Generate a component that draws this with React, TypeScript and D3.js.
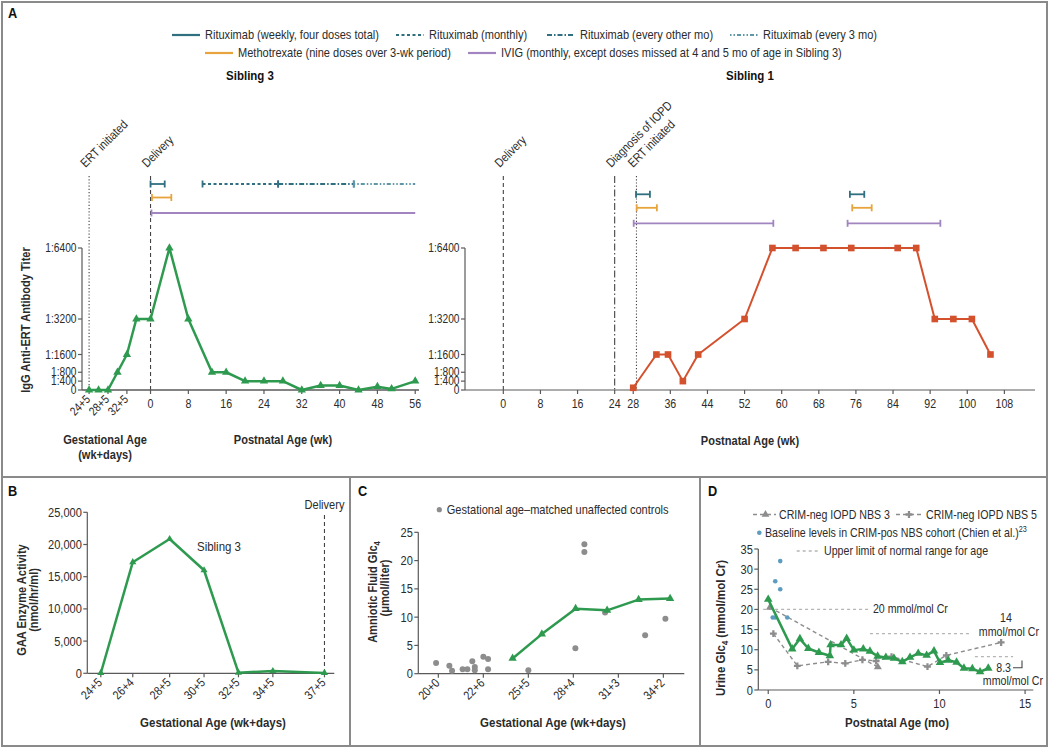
import React from 'react';
import * as d3 from 'd3';

// ---------- data ----------
// Panel A, Sibling 3: weeks relative to delivery (delivery at gestational 37+5)
const sib3Weeks = [-13, -11, -9, -7, -5, -3, 0, 4, 8, 13, 16, 20, 24, 28, 32, 36, 40, 44, 48, 51, 56];
const sib3Titers = [0, 0, 0, 800, 1600, 3200, 3200, 6400, 3200, 800, 800, 400, 400, 400, 0, 200, 200, 0, 150, 50, 400];
const sib3GestTicks = [-13, -9, -5];
const sib3GestLabels = ['24+5', '28+5', '32+5'];
const sib3PostTicks = [0, 8, 16, 24, 32, 40, 48, 56];

// Panel A, Sibling 1: postnatal weeks
const sib1Weeks = [28, 33, 35.5, 38.7, 42, 52, 58, 63, 69, 75, 85, 89, 93, 97, 101, 105];
const sib1Titers = [100, 1600, 1600, 400, 1600, 3200, 6400, 6400, 6400, 6400, 6400, 6400, 3200, 3200, 3200, 1600];
const sib1Ticks = [0, 8, 16, 24, 28, 36, 44, 52, 60, 68, 76, 84, 92, 100, 108];

const titerTicks = [0, 400, 800, 1600, 3200, 6400];
const titerLabels = ['0', '1:400', '1:800', '1:1600', '1:3200', '1:6400'];

const drugKeys = ['ritux', 'rituxMonthly', 'ritux2mo', 'ritux3mo', 'mtx', 'ivig'];
const drugLabels = [
  'Rituximab (weekly, four doses total)',
  'Rituximab (monthly)',
  'Rituximab (every other mo)',
  'Rituximab (every 3 mo)',
  'Methotrexate (nine doses over 3-wk period)',
  'IVIG (monthly, except doses missed at 4 and 5 mo of age in Sibling 3)',
];

const sib3Courses = [
  { drug: 'ritux', start: 0, end: 3 },
  { drug: 'rituxMonthly', start: 11, end: 27 },
  { drug: 'ritux2mo', start: 27, end: 43 },
  { drug: 'ritux3mo', start: 43, end: 56, ongoing: true },
  { drug: 'mtx', start: 0.3, end: 4.4 },
  { drug: 'ivig', start: 0.2, end: 56, ongoing: true },
];
const sib1Courses = [
  { drug: 'ritux', start: 28.6, end: 31.6 },
  { drug: 'ritux', start: 74.7, end: 77.8 },
  { drug: 'mtx', start: 28.75, end: 33.1 },
  { drug: 'mtx', start: 75.2, end: 79.4 },
  { drug: 'ivig', start: 28.1, end: 58.2 },
  { drug: 'ivig', start: 74.2, end: 94.2 },
];

const sib3Events = [
  { label: 'ERT initiated', week: -13, kind: 'dotted' },
  { label: 'Delivery', week: 0, kind: 'dashed' },
];
const sib1Events = [
  { label: 'Delivery', week: 0, kind: 'dashed' },
  { label: 'Diagnosis of IOPD', week: 24, kind: 'dashdot' },
  { label: 'ERT initiated', week: 28.7, kind: 'dotted' },
];

// Panel B: gestational age in days
const gaaDays = [173, 186, 201, 215, 229, 243, 264];
const gaaLabels = ['24+5', '26+4', '28+5', '30+5', '32+5', '34+5', '37+5'];
const gaaActivity = [50, 17250, 20850, 16000, 100, 350, 50];
const gaaTicks = [0, 5000, 10000, 15000, 20000, 25000];
const deliveryDay = 264;

// Panel C
const afDays = [173, 186, 201, 215, 229, 243];
const afGlc4 = [2.7, 7.0, 11.5, 11.2, 13.1, 13.3];
const controlDays = [139, 144.9, 146.1, 150.8, 152.9, 155.1, 156.2, 156.2, 160, 162.1, 162.1, 180, 200.9, 204.9, 204.9, 214.1, 231.9, 240.9];
const controlGlc4 = [1.9, 1.4, 0.5, 0.8, 0.8, 2.2, 1.2, 0.6, 3.0, 2.6, 0.8, 0.6, 4.5, 22.9, 21.5, 10.8, 6.8, 9.7];
const afTickDays = [140, 160, 180, 200, 220, 240];
const afTickLabels = ['20+0', '22+6', '25+5', '28+4', '31+3', '34+2'];
const afYTicks = [0, 5, 10, 15, 20, 25];

// Panel D: postnatal months
const urineMonths = [0, 1.4, 1.85, 2.34, 2.96, 3.6, 3.64, 4.25, 4.58, 5.0, 5.55, 5.94, 6.39, 6.87, 7.34, 7.83, 8.28, 8.76, 9.25, 9.68, 10.03, 10.51, 11.0, 11.43, 11.92, 12.37, 12.85];
const urineGlc4 = [22.5, 10.2, 12.7, 10.3, 9.3, 8.5, 11.2, 11.2, 12.8, 9.9, 10.2, 9.6, 8.4, 8.1, 7.9, 7.0, 8.1, 9.1, 8.6, 9.7, 6.8, 7.4, 6.9, 5.4, 5.3, 4.5, 5.4];
const nbs3Months = [0.1, 6.4];
const nbs3Glc4 = [20.5, 5.7];
const nbs5Months = [0.3, 1.7, 3.5, 4.5, 5.5, 6.3, 7.2, 9.3, 10.4, 13.6];
const nbs5Glc4 = [14, 6, 7, 6.6, 7.5, 7.2, 8.3, 5.8, 8.6, 11.8];
const cohortMonths = [0.26, 0.41, 0.41, 0.7, 0.7, 1.11];
const cohortGlc4 = [18, 18, 27, 32, 25, 18];
const ulnValues = [20, 14, 8.3];
const ulnFrom = [-0.3, 5.94, 12.07];
const ulnTo = [5.94, 11.8, 14.3];
const urineXTicks = [0, 5, 10, 15];
const urineYTicks = [0, 5, 10, 15, 20, 25, 30, 35];

// ---------- styles ----------
const FONT = "'Liberation Sans', Arial, sans-serif";
const SX = 0.85; // the original set in a condensed face
const TEXT = '#2b2b2b';
const AXIS = '#5a5a5a';
const GREEN = '#2e9a4f';
const RED = '#d4512e';
const TEAL = '#2f6f80';
const ORANGE = '#e8a43c';
const PURPLE = '#a184c0';
const GRAY = '#8d8d8d';
const BLUE = '#5b9cc0';

const courseStyle = {
  ritux: { color: TEAL, dash: null, row: 0 },
  rituxMonthly: { color: TEAL, dash: '3,2.5', row: 0 },
  ritux2mo: { color: TEAL, dash: '5,2,1.5,2', row: 0 },
  ritux3mo: { color: '#5f97a6', dash: '1.5,2,1.5,2,4,2', row: 0 },
  mtx: { color: ORANGE, dash: null, row: 1 },
  ivig: { color: PURPLE, dash: null, row: 2 },
};
const rowOffsets = [0, 13.5, 29];
const eventDash = { dotted: '1.2,2', dashed: '4,3', dashdot: '7,2.5,1.5,2.5' };

const sym = (type, size) => d3.symbol().type(type).size(size)();

// condensed text
function T({ x = 0, y = 0, r = 0, size = 13, bold = false, anchor = 'start', dy = undefined, fill = TEXT, children }) {
  const tr = `translate(${x},${y})${r ? ` rotate(${r})` : ''} scale(${SX},1)`;
  return (
    <text transform={tr} fontSize={size} fontWeight={bold ? 700 : 400} textAnchor={anchor} dy={dy} fill={fill}>{children}</text>
  );
}

function Series({ xs, ys, x, y, color, width, dash, symbol, size }) {
  const pts = d3.zip(xs, ys);
  const line = d3.line().x(d => x(d[0])).y(d => y(d[1]));
  const shape = symbol ? sym(symbol, size) : null;
  return (
    <g>
      <path d={line(pts)} fill="none" stroke={color} strokeWidth={width} strokeDasharray={dash || undefined} strokeLinejoin="round" />
      {shape && pts.map((d, i) => (
        <path key={i} d={shape} transform={`translate(${x(d[0])},${y(d[1])})`} fill={color} />
      ))}
    </g>
  );
}

function YAxis({ x, scale, ticks, labels, size = 12.5, tick = 4 }) {
  const [a, b] = d3.extent(ticks);
  return (
    <g>
      <line x1={x} x2={x} y1={scale(a)} y2={scale(b)} stroke={AXIS} strokeWidth={1.2} />
      {ticks.map((t, i) => (
        <g key={i}>
          <line x1={x - tick} x2={x} y1={scale(t)} y2={scale(t)} stroke={AXIS} strokeWidth={1.2} />
          <T x={x - tick - 1.5} y={scale(t)} dy="0.35em" anchor="end" size={size}>{labels ? labels[i] : d3.format(',')(t)}</T>
        </g>
      ))}
    </g>
  );
}

function XAxis({ y, scale, ticks, labels, size = 12.5, rotate = false, tick = 4 }) {
  const [r0, r1] = scale.range();
  return (
    <g>
      <line x1={r0} x2={r1} y1={y} y2={y} stroke={AXIS} strokeWidth={1.2} />
      {ticks.map((t, i) => (
        <g key={i}>
          <line x1={scale(t)} x2={scale(t)} y1={y} y2={y + tick} stroke={AXIS} strokeWidth={1.2} />
          {rotate ? (
            <T x={scale(t) + 2} y={y + 10} r={-45} anchor="end" size={size}>{labels ? labels[i] : t}</T>
          ) : (
            <T x={scale(t)} y={y + 18} anchor="middle" size={size}>{labels ? labels[i] : t}</T>
          )}
        </g>
      ))}
    </g>
  );
}

function Courses({ courses, x, top }) {
  return (
    <g>
      {courses.map((c, i) => {
        const st = courseStyle[c.drug];
        const yy = top + rowOffsets[st.row];
        const x0 = x(c.start), x1 = x(c.end);
        return (
          <g key={i} stroke={st.color} strokeWidth={1.8}>
            <line x1={x0} x2={x1} y1={yy} y2={yy} strokeDasharray={st.dash || undefined} />
            <line x1={x0} x2={x0} y1={yy - 3.5} y2={yy + 3.5} />
            {!c.ongoing && <line x1={x1} x2={x1} y1={yy - 3.5} y2={yy + 3.5} />}
          </g>
        );
      })}
    </g>
  );
}

function Events({ events, x, y0, y1 }) {
  return (
    <g>
      {events.map((e, i) => (
        <g key={i}>
          <line x1={x(e.week)} x2={x(e.week)} y1={y0} y2={y1} stroke="#444" strokeWidth={1.1} strokeDasharray={eventDash[e.kind]} />
          <T x={x(e.week) - 3.5} y={y0 - 8} r={-45} size={12.5}>{e.label}</T>
        </g>
      ))}
    </g>
  );
}

function Legend() {
  const row1 = [0, 1, 2, 3];
  const row1X = [172, 396, 547, 730];
  const row2 = [4, 5];
  const row2X = [205, 468];
  const item = (k, x0, yy) => {
    const st = courseStyle[drugKeys[k]];
    return (
      <g key={k}>
        <line x1={x0} x2={x0 + 28} y1={yy - 4} y2={yy - 4} stroke={st.color} strokeWidth={2.2} strokeDasharray={st.dash || undefined} />
        <T x={x0 + 33} y={yy} size={13}>{drugLabels[k]}</T>
      </g>
    );
  };
  return (
    <g>
      {row1.map((k, i) => item(k, row1X[i], 39))}
      {row2.map((k, i) => item(k, row2X[i], 57))}
    </g>
  );
}

export default function App() {
  // Panel A
  const yT = d3.scaleLinear().domain([0, 6400]).range([390, 248]);
  const xS3 = d3.scaleLinear().domain([-14.5, 56.8]).range([82, 419]);
  const xS1 = d3.scaleLinear().domain([-8.26, 114.6]).range([465, 1035]);

  // Panel B
  const xB = d3.scaleLinear().domain([167.5, 268]).range([87.3, 334.3]);
  const yB = d3.scaleLinear().domain([0, 25000]).range([673.3, 512.3]);

  // Panel C
  const xC = d3.scaleLinear().domain([131.1, 249.3]).range([418.3, 684.3]);
  const yC = d3.scaleLinear().domain([0, 25]).range([673.7, 532.3]);

  // Panel D
  const xD = d3.scaleLinear().domain([-0.58, 15.48]).range([758.3, 1033.3]);
  const yD = d3.scaleLinear().domain([0, 35]).range([690, 549]);

  return (
    <div style={{ position: 'absolute', left: 0, top: 0 }}>
      <svg width={1050} height={748} style={{ display: 'block', fontFamily: FONT, background: '#fff' }}>
        {/* panel frames */}
        <g fill="none" stroke="#8a8a8a" strokeWidth={2}>
          <rect x={2} y={2} width={1045} height={475} />
          <rect x={2} y={477} width={348} height={269} />
          <rect x={350} y={477} width={350} height={269} />
          <rect x={700} y={477} width={347} height={269} />
        </g>

        {/* ---------- A ---------- */}
        <T x={8} y={18} size={15} bold fill="#111">A</T>
        <Legend />
        <T x={250} y={80} anchor="middle" size={13.5} bold fill="#111">Sibling 3</T>
        <T x={750} y={80} anchor="middle" size={13.5} bold fill="#111">Sibling 1</T>
        <T x={30} y={320} r={-90} anchor="middle" size={13} bold>IgG Anti-ERT Antibody Titer</T>

        {/* Sibling 3 */}
        <Events events={sib3Events} x={xS3} y0={176} y1={390} />
        <Courses courses={sib3Courses} x={xS3} top={184} />
        <YAxis x={82} scale={yT} ticks={titerTicks} labels={titerLabels} size={12} />
        <XAxis y={390} scale={xS3} ticks={sib3PostTicks} size={12.5} />
        <XAxis y={390} scale={xS3} ticks={sib3GestTicks} labels={sib3GestLabels} size={12} rotate />
        <Series xs={sib3Weeks} ys={sib3Titers} x={xS3} y={yT} color={GREEN} width={2.5} symbol={d3.symbolTriangle} size={30} />
        <T x={105} y={444} anchor="middle" size={13} bold>Gestational Age</T>
        <T x={105} y={459} anchor="middle" size={13} bold>(wk+days)</T>
        <T x={283} y={444} anchor="middle" size={13} bold>Postnatal Age (wk)</T>

        {/* Sibling 1 */}
        <Events events={sib1Events} x={xS1} y0={176} y1={390} />
        <Courses courses={sib1Courses} x={xS1} top={194.3} />
        <YAxis x={465} scale={yT} ticks={titerTicks} labels={titerLabels} size={12} />
        <XAxis y={390} scale={xS1} ticks={sib1Ticks} size={12.5} />
        <Series xs={sib1Weeks} ys={sib1Titers} x={xS1} y={yT} color={RED} width={2} symbol={d3.symbolSquare} size={44} />
        <T x={750} y={445} anchor="middle" size={13} bold>Postnatal Age (wk)</T>

        {/* ---------- B ---------- */}
        <T x={8} y={496} size={15} bold fill="#111">B</T>
        <line x1={xB(deliveryDay)} x2={xB(deliveryDay)} y1={515} y2={yB(0)} stroke="#444" strokeWidth={1.1} strokeDasharray="4,3" />
        <T x={xB(deliveryDay)} y={509} anchor="middle" size={13}>Delivery</T>
        <YAxis x={87.3} scale={yB} ticks={gaaTicks} size={13} />
        <XAxis y={673.3} scale={xB} ticks={gaaDays} labels={gaaLabels} size={12.5} rotate />
        <Series xs={gaaDays} ys={gaaActivity} x={xB} y={yB} color={GREEN} width={2.5} symbol={d3.symbolTriangle} size={22} />
        <T x={197} y={551} size={13.5}>Sibling 3</T>
        <T x={26} y={600} r={-90} anchor="middle" size={13} bold>GAA Enzyme Activity</T>
        <T x={38} y={600} r={-90} anchor="middle" size={13} bold>(nmol/hr/ml)</T>
        <T x={213} y={727} anchor="middle" size={13.5} bold>Gestational Age (wk+days)</T>

        {/* ---------- C ---------- */}
        <T x={358} y={496} size={15} bold fill="#111">C</T>
        <circle cx={439.3} cy={509.7} r={2.6} fill={GRAY} />
        <T x={446.7} y={514} size={13}>Gestational age–matched unaffected controls</T>
        <YAxis x={418.3} scale={yC} ticks={afYTicks} size={13} />
        <XAxis y={673.7} scale={xC} ticks={afTickDays} labels={afTickLabels} size={12.5} rotate />
        {controlDays.map((d, i) => (
          <circle key={i} cx={xC(d)} cy={yC(controlGlc4[i])} r={3} fill={GRAY} />
        ))}
        <Series xs={afDays} ys={afGlc4} x={xC} y={yC} color={GREEN} width={2.5} symbol={d3.symbolTriangle} size={30} />
        <T x={377} y={592} r={-90} anchor="middle" size={13} bold>
          Amniotic Fluid Glc<tspan fontSize={9} dy={3}>4</tspan>
        </T>
        <T x={389} y={588} r={-90} anchor="middle" size={13} bold>(μmol/liter)</T>
        <T x={553} y={727} anchor="middle" size={13.5} bold>Gestational Age (wk+days)</T>

        {/* ---------- D ---------- */}
        <T x={708} y={496} size={15} bold fill="#111">D</T>
        {/* legend */}
        <line x1={753} x2={776} y1={514.5} y2={514.5} stroke={GRAY} strokeWidth={1.4} strokeDasharray="4,3" />
        <path d={sym(d3.symbolTriangle, 26)} transform="translate(765.5,514.5)" fill={GRAY} />
        <T x={779} y={518.5} size={12.5}>CRIM-neg IOPD NBS 3</T>
        <line x1={896} x2={922} y1={514.5} y2={514.5} stroke={GRAY} strokeWidth={1.4} strokeDasharray="4,3" />
        <path d={sym(d3.symbolCross, 26)} transform="translate(909,514.5)" fill={GRAY} />
        <T x={926} y={518.5} size={12.5}>CRIM-neg IOPD NBS 5</T>
        <circle cx={759.3} cy={532.7} r={2.3} fill={BLUE} />
        <T x={765} y={537} size={12.5}>Baseline levels in CRIM-pos NBS cohort (Chien et al.)<tspan fontSize={8.5} dy={-5}>23</tspan></T>
        <line x1={796.7} x2={819.3} y1={551} y2={551} stroke="#b5b5b5" strokeWidth={1.3} strokeDasharray="3,3" />
        <T x={824} y={555} size={12.5}>Upper limit of normal range for age</T>

        {/* upper limits of normal */}
        {ulnValues.map((v, i) => (
          <line key={i} x1={xD(ulnFrom[i])} x2={xD(ulnTo[i])} y1={yD(v)} y2={yD(v)} stroke="#b5b5b5" strokeWidth={1.3} strokeDasharray="3,3" />
        ))}
        <T x={xD(ulnTo[0]) + 3} y={yD(ulnValues[0]) + 4} size={12.5}>20 mmol/mol Cr</T>
        <T x={1006} y={622} anchor="middle" size={12.5}>14</T>
        <T x={1039} y={636} anchor="end" size={12.5}>mmol/mol Cr</T>
        <T x={1011} y={672} anchor="end" size={12.5}>8.3</T>
        <path d="M1013,667.7 H1022 V660.5" fill="none" stroke="#444" strokeWidth={1.1} />
        <T x={1043} y={685} anchor="end" size={12.5}>mmol/mol Cr</T>

        <YAxis x={758.3} scale={yD} ticks={urineYTicks} size={13} />
        <XAxis y={690} scale={xD} ticks={urineXTicks} size={13} />
        <Series xs={nbs3Months} ys={nbs3Glc4} x={xD} y={yD} color={GRAY} width={1.4} dash="4,3" symbol={d3.symbolTriangle} size={28} />
        <Series xs={nbs5Months} ys={nbs5Glc4} x={xD} y={yD} color={GRAY} width={1.4} dash="4,3" symbol={d3.symbolCross} size={26} />
        {cohortMonths.map((m, i) => (
          <circle key={i} cx={xD(m)} cy={yD(cohortGlc4[i])} r={2.3} fill={BLUE} />
        ))}
        <Series xs={urineMonths} ys={urineGlc4} x={xD} y={yD} color={GREEN} width={2.5} symbol={d3.symbolTriangle} size={32} />
        <T x={725} y={628} r={-90} anchor="middle" size={13.5} bold>
          Urine Glc<tspan fontSize={9} dy={3}>4</tspan><tspan dy={-3}> (mmol/mol Cr)</tspan>
        </T>
        <T x={897} y={727} anchor="middle" size={13.5} bold>Postnatal Age (mo)</T>
      </svg>
    </div>
  );
}
